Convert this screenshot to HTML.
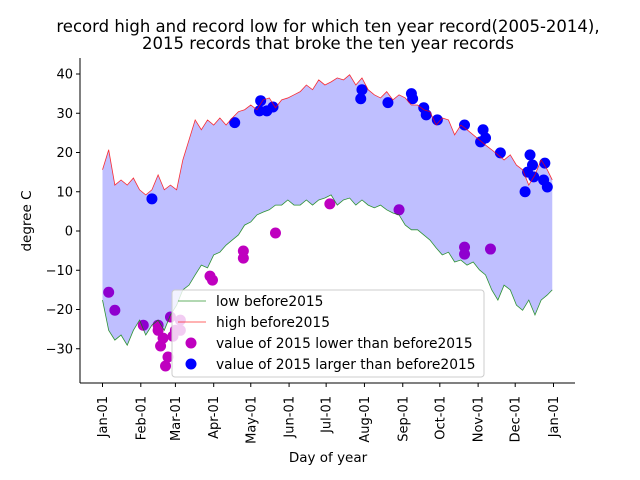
<!DOCTYPE html>
<html><head><meta charset="utf-8"><style>
html,body{margin:0;padding:0;background:#fff;}
svg{display:block;font-family:"DejaVu Sans","Liberation Sans",sans-serif;}
</style></head><body>
<svg id="chart" width="640" height="480" viewBox="0 0 640 480">
<text x="328" y="32" font-size="16.5" text-anchor="middle">record high and record low for which ten year record(2005-2014),</text>
<text x="328" y="49" font-size="16.5" text-anchor="middle">2015 records that broke the ten year records</text>
<text x="31" y="221" font-size="13.5" text-anchor="middle" transform="rotate(-90 31 221)">degree C</text>
<text x="328" y="462" font-size="13.5" text-anchor="middle">Day of year</text>
<g id="plot"></g>
</svg>
<script>
const highVals=[15.6,20.7,11.7,13,11.7,13.5,10.5,9.2,10.5,14.3,10.5,11.7,10.5,18.1,23.2,28.3,25.8,28.3,27,28.8,27,28.8,30.4,30.9,32.1,30.9,33.4,33.9,31.4,33.4,33.9,34.7,35.5,37.2,36,38.5,37.2,38,39,38.5,39.8,37.2,39,36,34.7,33.9,35.5,33.4,34.7,33.9,32.1,32.1,30.9,30.4,27,28.8,28.3,24.5,27,25.8,24.5,23.2,21.9,20.7,19.4,18.1,19.4,16.8,15.6,11.7,14.3,18.1,15.6,13];
const lowVals=[-17.6,-25.3,-27.8,-26.5,-29.1,-25.3,-22.7,-26.5,-24,-22.7,-25.3,-21.4,-18.9,-15,-13.8,-11.2,-8.7,-9.4,-6.1,-5.4,-3.6,-2.3,-1,1.5,2.3,4.1,4.8,5.4,6.6,6.6,7.9,6.6,6.6,7.9,6.6,7.9,8.4,9.2,6.6,7.9,8.4,6.6,7.9,6.6,5.9,6.6,5.4,4.6,4.1,1.5,0.3,0.3,-1,-2.3,-4.3,-6.1,-5.4,-7.9,-7.4,-8.7,-7.9,-9.9,-11.2,-15,-17.6,-13.8,-15,-18.9,-20.2,-17.6,-21.4,-17.6,-16.3,-15];
const lineStep=5;
const highDays=[40,107,128,127,133,138,210,209,231,250,251,260,262,271,293,308,306,310,322,346,348,344,349,358,357,342,360];
const highRec=[8.2,27.6,33.2,30.6,30.6,31.6,36,33.7,32.7,35,33.7,31.4,29.6,28.3,27,25.8,22.7,23.7,19.9,19.4,16.8,15,13.8,17.3,13,10,11.2];
const lowDays=[5,10,33,45,55,45,49,47,53,51,57,59,63,63,87,89,114,114,140,184,240,293,293,314];
const lowRec=[-15.6,-20.2,-24,-24,-21.9,-25.3,-27.3,-29.3,-32.1,-34.4,-26.8,-25.3,-22.7,-25.3,-11.5,-12.5,-5.1,-6.9,-0.5,6.9,5.4,-4.1,-5.9,-4.6];
const yTicks=[-30,-20,-10,0,10,20,30,40];
const monthDays=[0,31,59,90,120,151,181,212,243,273,304,334,365];
const monthLabels=['Jan-01','Feb-01','Mar-01','Apr-01','May-01','Jun-01','Jul-01','Aug-01','Sep-01','Oct-01','Nov-01','Dec-01','Jan-01'];

const X0=80,X1=575,Y0=58,Y1=383;
function xs(d){return 102.5+d*(553.5-102.5)/365;}
function ys(v){return 231-v*3.925;}
const NS='http://www.w3.org/2000/svg';
const g=document.getElementById('plot');
function mk(tag,attrs,parent){const e=document.createElementNS(NS,tag);for(const k in attrs)e.setAttribute(k,attrs[k]);(parent||g).appendChild(e);return e;}

for(let i=0;i<lowDays.length;i++){
 const c=mk('circle',{cx:xs(lowDays[i]),cy:ys(lowRec[i]),r:5.5,fill:'#bf00bf'});
 
 
}
for(let i=0;i<highDays.length;i++){
 const c=mk('circle',{cx:xs(highDays[i]),cy:ys(highRec[i]),r:5.5,fill:'#0000ff'});
 
 
}
let hp=highVals.map((v,i)=>xs(Math.min(i*lineStep,364))+','+ys(v));
let lp=lowVals.map((v,i)=>xs(Math.min(i*lineStep,364))+','+ys(v)).reverse();
const f=mk('polygon',{points:hp.concat(lp).join(' '),fill:'#0000ff','fill-opacity':0.25});


const ll=mk('polyline',{points:lowVals.map((v,i)=>xs(Math.min(i*lineStep,364))+','+ys(v)).join(' '),fill:'none',stroke:'#008000','stroke-width':0.8,'stroke-opacity':0.8});


const hl=mk('polyline',{points:hp.join(' '),fill:'none',stroke:'#ff0000','stroke-width':0.8,'stroke-opacity':0.8});



const ya=mk('line',{x1:X0,y1:Y0,x2:X0,y2:Y1,stroke:'#000','stroke-width':1});


const xa=mk('line',{x1:X0,y1:Y1,x2:X1,y2:Y1,stroke:'#000','stroke-width':1});


yTicks.forEach(t=>{
 const y=ys(t);
 mk('line',{x1:X0-4,y1:y,x2:X0,y2:y,stroke:'#000'});
 const tx=mk('text',{x:X0-7,y:y+4.5,'font-size':13,'text-anchor':'end'});
 tx.textContent=String(t).replace('-','\u2212');
 
 
});
monthDays.forEach((d,i)=>{
 const x=xs(d);
 mk('line',{x1:x,y1:Y1,x2:x,y2:Y1+4,stroke:'#000'});
 const tx=mk('text',{x:x+4.5,y:Y1+13,'font-size':13,'text-anchor':'end',transform:'rotate(-90 '+(x+4.5)+' '+(Y1+13)+')'});
 tx.textContent=monthLabels[i];
 
 
});

const lg=mk('g',{});


mk('rect',{x:172,y:290,width:312,height:87,rx:3,fill:'#fff','fill-opacity':0.8,stroke:'#ccc'},lg);
mk('line',{x1:178,y1:301,x2:206,y2:301,stroke:'#008000','stroke-width':0.8,'stroke-opacity':0.8},lg);
mk('line',{x1:178,y1:322,x2:206,y2:322,stroke:'#ff0000','stroke-width':0.8,'stroke-opacity':0.8},lg);
mk('circle',{cx:191,cy:343,r:5.5,fill:'#bf00bf'},lg);
mk('circle',{cx:191,cy:364,r:5.5,fill:'#0000ff'},lg);
const labs=['low before2015','high before2015','value of 2015 lower than before2015','value of 2015 larger than before2015'];
labs.forEach((s,i)=>{
 const t=mk('text',{x:216,y:306+i*21,'font-size':13.8},lg);
 t.textContent=s;
 
 
});
</script>
</body></html>
